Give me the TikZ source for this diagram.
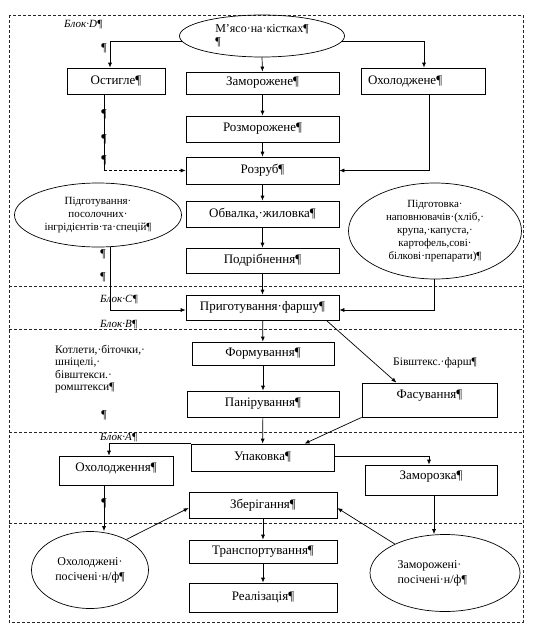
\documentclass[tikz,border=0pt]{standalone}
\usepackage{fontspec}
\setmainfont{Liberation Serif}
\usetikzlibrary{arrows.meta,shapes.geometric}
\begin{document}
\begin{tikzpicture}[x=1pt,y=-1pt,
  box/.style={draw, line width=0.7pt, inner sep=1pt, font=\fontsize{13}{15}\selectfont},
  ell/.style={draw, ellipse, line width=0.7pt, inner sep=0pt, font=\fontsize{11}{13}\selectfont, align=center},
  arr/.style={line width=0.7pt, -{Latex[length=5pt,width=4pt]}},
  ln/.style={line width=0.7pt},
  blk/.style={line width=0.7pt, dash pattern=on 3pt off 2pt, draw=black!85},
  lbl/.style={font=\fontsize{11}{13}\selectfont\itshape, inner sep=0pt},
  pil/.style={font=\fontsize{12}{14}\selectfont, inner sep=0pt},
  txt/.style={font=\fontsize{11.5}{12.5}\selectfont, inner sep=0pt, align=left}]
\useasboundingbox (0,0) rectangle (538,629);

% block frames
\draw[blk] (9,15) rectangle (523,622);
\draw[blk] (9,286) -- (523,286);
\draw[blk] (9,329) -- (523,329);
\draw[blk] (9,432) -- (523,432);
\draw[blk] (9,523) -- (523,523);

% block labels
\node[lbl, anchor=west] (bd) at (64,25) {Блок·D¶};
\node[lbl, anchor=west] (bc) at (100,300) {Блок·С¶};
\node[lbl, anchor=west] (bb) at (100,325) {Блок·В¶};
\node[lbl, anchor=west] (ba) at (100,438) {Блок·А¶};

% nodes
\node[ell, minimum width=165pt, minimum height=42pt, align=left, font=\fontsize{12}{13}\selectfont] (meat) at (262,36) {М'ясо·на·кістках¶\\¶};
\node[box, minimum width=98pt, minimum height=26pt] (ost) at (116,81) {Остигле¶};
\node[box, minimum width=153pt, minimum height=22pt] (zam) at (262.5,83) {Заморожене¶};
\node[box, minimum width=124pt, minimum height=26pt, text width=110pt, align=left] (oho) at (423,81) {Охолоджене¶};
\node[box, minimum width=153pt, minimum height=26pt] (rozm) at (262.5,129) {Розморожене¶};
\node[box, minimum width=153pt, minimum height=27pt] (rozr) at (262.5,170.5) {Розруб¶};
\node[box, minimum width=153pt, minimum height=26pt] (obv) at (262.5,214) {Обвалка,·жиловка¶};
\node[box, minimum width=153pt, minimum height=25pt] (podr) at (262.5,260.5) {Подрібнення¶};
\node[box, minimum width=153pt, minimum height=25pt] (prig) at (262.5,307.5) {Приготування·фаршу¶};
\node[ell, minimum width=167pt, minimum height=64pt] (podg1) at (98,215) {Підготування·\\посолочних·\\інгрідієнтів·та·спецій¶};
\node[ell, minimum width=173pt, minimum height=96pt] (podg2) at (435,231) {Підготовка·\\наповнювачів·(хліб,·\\крупа,·капуста,·\\картофель,сові·\\білкові·препарати)¶};
\node[box, minimum width=142pt, minimum height=23pt] (form) at (263,353.5) {Формування¶};
\node[box, minimum width=152pt, minimum height=26pt] (pan) at (263,404) {Панірування¶};
\node[box, minimum width=135pt, minimum height=34pt, text depth=12pt] (fas) at (429.5,400) {Фасування¶};
\node[box, minimum width=143pt, minimum height=27pt] (upak) at (262.5,457.5) {Упаковка¶};
\node[box, minimum width=114pt, minimum height=29pt, text depth=6pt] (oxol) at (116,470.5) {Охолодження¶};
\node[box, minimum width=132pt, minimum height=30pt, text depth=9pt] (zamz) at (431,480) {Заморозка¶};
\node[box, minimum width=148pt, minimum height=26pt] (zber) at (263,505) {Зберігання¶};
\node[box, minimum width=148pt, minimum height=23pt] (trans) at (263,551.5) {Транспортування¶};
\node[box, minimum width=148pt, minimum height=29pt] (real) at (263,597.5) {Реалізація¶};
\node[ell, minimum width=117pt, minimum height=77pt, font=\fontsize{12}{15}\selectfont] (oxe) at (90,570) {Охолоджені·\\посічені·н/ф¶};
\node[ell, minimum width=150pt, minimum height=77pt, align=left, text width=95pt, font=\fontsize{12}{15}\selectfont] (zame) at (445,573) {Заморожені·\\посічені·н/ф¶};

% free texts
\node[txt, anchor=west] (bf) at (393,363) {Бівштекс.·фарш¶};
\node[txt, anchor=north west] (kot) at (55,345) {Котлети,·біточки,·\\шніцелі,·\\бівштекси.·\\ромштекси¶};

% pilcrows
\node[pil] (p1) at (104,48) {¶};
\node[pil] (p2) at (104,114) {¶};
\node[pil] (p3) at (104,139) {¶};
\node[pil] (p4) at (104,160) {¶};
\node[pil] (p5) at (103,254) {¶};
\node[pil] (p6) at (103,277) {¶};
\node[pil] (p7) at (104,415) {¶};
\node[pil] (p8) at (104,503) {¶};

% connectors
\draw[arr] (meat.south) -- (zam.north);
\draw[arr] (meat.184) -| ([xshift=-6pt]ost.north);
\draw[arr] (meat.-4) -| ([xshift=1pt]oho.north);
\draw[arr] (zam) -- (rozm);
\draw[arr] (rozm) -- (rozr);
\coordinate (k1) at ([xshift=-12pt]ost.south |- rozr.west);
\draw[ln] ([xshift=-12pt]ost.south) -- (k1);
\draw[arr, dash pattern=on 3pt off 2pt] (k1) -- (rozr.west);
\draw[arr] ([xshift=6pt]oho.south) |- (rozr.east);
\draw[arr] (rozr) -- (obv);
\draw[arr] (obv) -- (podr);
\draw[arr] (podr) -- (prig);
\draw[arr] ([xshift=12pt]podg1.south) |- ([yshift=-2.5pt]prig.west);
\draw[arr] ([xshift=-1pt]podg2.south) |- ([yshift=-2.5pt]prig.east);
\draw[arr] (prig) -- (form);
\draw[arr] ([xshift=-13pt]prig.south east) -- ([xshift=-33pt]fas.north);
\draw[arr] (form) -- (pan);
\draw[arr] (pan) -- (upak);
\draw[arr] (fas.south west) -- ([xshift=42pt]upak.north);
\draw[arr] (upak.north west) -| ([xshift=-7pt]oxol.north);
\draw[arr] ([yshift=1.5pt]upak.east) -| ([xshift=-2pt]zamz.north);
\draw[arr] ([xshift=-12pt]oxol.south) -- ([xshift=-12pt]oxol.south |- oxe.north);
\draw[arr] ([xshift=3pt]zamz.south) -- ([xshift=3pt]zamz.south |- zame.north);
\draw[arr] (oxe.40) -- ([yshift=-3pt]zber.west);
\draw[arr] (zame.150) -- ([yshift=-3pt]zber.east);
\draw[arr] (zber) -- (trans);
\draw[arr] (trans) -- (real);
\end{tikzpicture}
\end{document}
